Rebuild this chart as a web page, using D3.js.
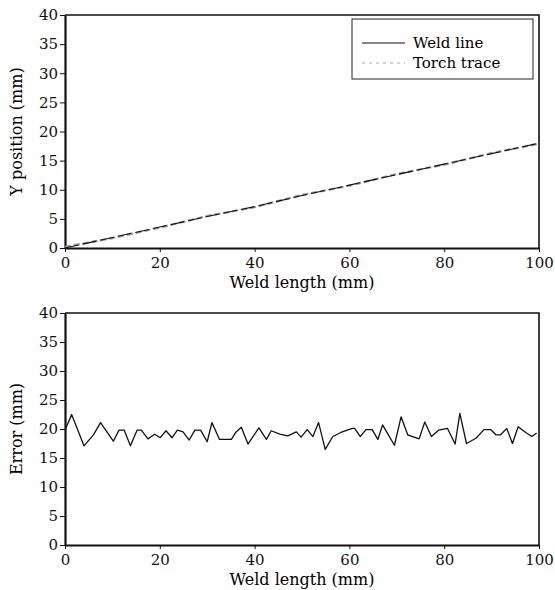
<!DOCTYPE html>
<html>
<head>
<meta charset="utf-8">
<script src="https://cdn.jsdelivr.net/npm/d3@7"></script>
<style>
  body { margin: 0; background: #fff; }
</style>
</head>
<body>
<svg id="chart" width="555" height="590"></svg>
<script>
// --- data ---
const weldX    = [0, 10, 20, 30, 40, 50, 60, 70, 80, 90, 100];
const weldY    = [0, 1.8, 3.6, 5.4, 7.1, 9.0, 10.8, 12.6, 14.4, 16.2, 18.0];
const torchY   = [0.2, 1.7, 3.5, 5.5, 7.0, 9.1, 10.7, 12.7, 14.3, 16.3, 17.9];

const errX = [0, 1.4, 4, 6, 7.5, 10.2, 11.4, 12.5, 13.8, 15.2, 16.1, 17.5, 18.9, 20.1, 21.3,
  22.6, 23.7, 24.9, 26.2, 27.4, 28.6, 30, 31, 32.6, 35.1, 36.1, 37.2, 38.6, 40.9, 42.5,
  43.5, 45.3, 47, 48.8, 49.8, 51.1, 52.3, 53.5, 54.9, 56.5, 58.2, 60.6, 61.1, 62.3, 63.5,
  64.8, 66, 67, 69.5, 70.9, 72.3, 74.7, 75.9, 77.3, 78.8, 80.7, 82.3, 83.3, 84.7, 86.7,
  88.4, 89.8, 90.9, 91.9, 93.2, 94.4, 95.6, 97.2, 98.5, 99.5];
const errY = [19.8, 22.5, 17.1, 19.0, 21.1, 17.9, 19.8, 19.8, 17.1, 19.8, 19.8, 18.3, 19.1, 18.5, 19.7,
  18.5, 19.8, 19.5, 18.1, 19.8, 19.8, 17.8, 21.1, 18.2, 18.2, 19.5, 20.3, 17.4, 20.2, 18.2,
  19.7, 19.1, 18.8, 19.5, 18.6, 19.9, 18.7, 21.1, 16.5, 18.7, 19.4, 20.1, 20.1, 18.7, 19.9,
  19.9, 18.2, 20.7, 17.2, 22.1, 19.0, 18.3, 21.2, 18.7, 19.8, 20.1, 17.4, 22.7, 17.5, 18.4,
  19.9, 19.9, 19.0, 19.0, 20.1, 17.5, 20.4, 19.4, 18.7, 19.3];

const xTicks = [0, 20, 40, 60, 80, 100];
const yTicks = [0, 5, 10, 15, 20, 25, 30, 35, 40];
const legendItems = ["Weld line", "Torch trace"];

const FONT = "'DejaVu Serif', 'Liberation Serif', serif";
const svg = d3.select("#chart");

function panel(top, bottom, yTitle) {
  const x = d3.scaleLinear().domain([0, 100]).range([65, 539]);
  const y = d3.scaleLinear().domain([0, 40]).range([bottom, top]);

  // frame (top + right)
  svg.append("path")
     .attr("d", `M65,${top}H539V${bottom}`)
     .attr("fill", "none").attr("stroke", "#111").attr("stroke-width", 1.6);

  const gx = svg.append("g")
     .attr("transform", `translate(0,${bottom})`)
     .call(d3.axisBottom(x).tickValues(xTicks).tickSize(4).tickSizeOuter(0).tickPadding(5));
  const gy = svg.append("g")
     .attr("transform", "translate(65,0)")
     .call(d3.axisLeft(y).tickValues(yTicks).tickSize(5).tickSizeOuter(0).tickPadding(2));

  [gx, gy].forEach(g => {
    g.attr("font-family", FONT);
    g.select(".domain").attr("stroke", "#111").attr("stroke-width", 2.2);
    g.selectAll(".tick line").attr("stroke", "#111");
    g.selectAll(".tick text").attr("font-size", 15).attr("fill", "#111");
  });

  svg.append("text")
     .attr("x", 302).attr("y", bottom + 40)
     .attr("text-anchor", "middle")
     .attr("font-family", FONT).attr("font-size", 16)
     .text("Weld length (mm)");

  svg.append("text")
     .attr("transform", `translate(22,${(top + bottom) / 2}) rotate(-90)`)
     .attr("text-anchor", "middle")
     .attr("font-family", FONT).attr("font-size", 16)
     .text(yTitle);

  return { x, y };
}

// --- top panel ---
const p1 = panel(15, 248, "Y position (mm)");
const line1 = d3.line().x((d, i) => p1.x(weldX[i])).y(d => p1.y(d));

svg.append("path")
   .datum(torchY)
   .attr("fill", "none")
   .attr("stroke", "#999")
   .attr("stroke-width", 2.2)
   .attr("stroke-dasharray", "6,3")
   .attr("d", line1);
svg.append("path")
   .datum(weldY)
   .attr("fill", "none")
   .attr("stroke", "#111")
   .attr("stroke-width", 1.1)
   .attr("stroke-dasharray", "14,4")
   .attr("d", line1);

// legend
const lg = svg.append("g");
lg.append("rect")
  .attr("x", 352).attr("y", 19).attr("width", 181).attr("height", 60)
  .attr("fill", "#fff").attr("stroke", "#222").attr("stroke-width", 1);
legendItems.forEach((name, i) => {
  const yy = 43 + i * 20;
  lg.append("line")
    .attr("x1", 362).attr("x2", 405).attr("y1", yy).attr("y2", yy)
    .attr("stroke", i === 0 ? "#111" : "#aaa")
    .attr("stroke-width", 1.2)
    .attr("stroke-dasharray", i === 0 ? null : "3,4");
  lg.append("text")
    .attr("x", 413).attr("y", yy + 5)
    .attr("font-family", FONT).attr("font-size", 15)
    .text(name);
});

// --- bottom panel ---
const p2 = panel(313, 545, "Error (mm)");
svg.append("path")
   .datum(errY)
   .attr("fill", "none")
   .attr("stroke", "#111")
   .attr("stroke-width", 1.3)
   .attr("stroke-linejoin", "round")
   .attr("d", d3.line().x((d, i) => p2.x(errX[i])).y(d => p2.y(d)));
</script>
</body>
</html>
